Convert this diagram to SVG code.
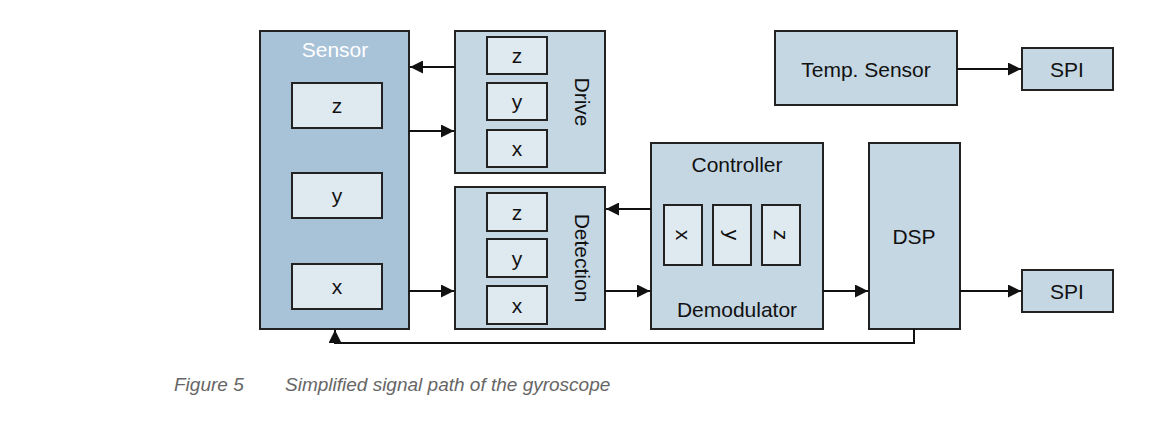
<svg xmlns="http://www.w3.org/2000/svg" width="1149" height="429" viewBox="0 0 1149 429">
<style>
.o,.s,.i{stroke:#222;stroke-width:2}
.o{fill:#c5d7e3}.s{fill:#a8c2d8}.i{fill:#dfe9f0}
text{font-family:"Liberation Sans",Arial,sans-serif;font-size:21px;fill:#111;text-anchor:middle;dominant-baseline:central}
.cap{font-style:italic;fill:#666;text-anchor:start;font-size:19px}
.c{stroke:#111;stroke-width:2;fill:none}
.h{fill:#111;stroke:none}
</style>
<defs><marker id="a" viewBox="0 0 10 10" refX="10" refY="5" markerWidth="20" markerHeight="13" markerUnits="userSpaceOnUse" orient="auto"><path class="h" d="M0,0L10,5L0,10z"/></marker></defs>
<rect width="1149" height="429" fill="#fff"/>
<g id="sensor"><rect class="s" x="260" y="31" width="149" height="298"/><text x="335" y="49" style="fill:#fff">Sensor</text>
<rect class="i" x="292" y="83" width="90" height="45"/><text x="337" y="105">z</text>
<rect class="i" x="292" y="173" width="90" height="45"/><text x="337" y="195">y</text>
<rect class="i" x="292" y="264" width="90" height="45"/><text x="337" y="286">x</text></g>
<g id="drive"><rect class="o" x="455" y="31" width="150" height="142"/>
<rect class="i" x="487" y="37" width="60" height="37"/><text x="517" y="55">z</text>
<rect class="i" x="487" y="83" width="60" height="37"/><text x="517" y="101">y</text>
<rect class="i" x="487" y="130" width="60" height="37"/><text x="517" y="148">x</text>
<text transform="translate(582,102) rotate(90)">Drive</text></g>
<g id="detection"><rect class="o" x="455" y="187" width="150" height="142"/>
<rect class="i" x="487" y="193" width="60" height="38"/><text x="517" y="212">z</text>
<rect class="i" x="487" y="239" width="60" height="38"/><text x="517" y="258">y</text>
<rect class="i" x="487" y="286" width="60" height="38"/><text x="517" y="305">x</text>
<text transform="translate(582,258) rotate(90)">Detection</text></g>
<g id="controller"><rect class="o" x="651" y="143" width="172" height="186"/>
<text x="737" y="164">Controller</text><text x="737" y="309">Demodulator</text>
<rect class="i" x="664" y="205" width="38" height="60"/><text transform="translate(683,235) rotate(90)">x</text>
<rect class="i" x="713" y="205" width="38" height="60"/><text transform="translate(732,235) rotate(90)">y</text>
<rect class="i" x="762" y="205" width="38" height="60"/><text transform="translate(781,235) rotate(90)">z</text></g>
<g id="dsp"><rect class="o" x="869" y="143" width="91" height="186"/><text x="914" y="236">DSP</text></g>
<g id="temp"><rect class="o" x="775" y="31" width="182" height="74"/><text x="866" y="69">Temp. Sensor</text></g>
<g id="spi1"><rect class="o" x="1022" y="48" width="91" height="42"/><text x="1067" y="69">SPI</text></g>
<g id="spi2"><rect class="o" x="1022" y="270" width="91" height="42"/><text x="1067" y="291">SPI</text></g>
<g id="connectors">
<line class="c" x1="455" y1="67" x2="410" y2="67" marker-end="url(#a)"/>
<line class="c" x1="409" y1="131" x2="454" y2="131" marker-end="url(#a)"/>
<line class="c" x1="409" y1="291" x2="454" y2="291" marker-end="url(#a)"/>
<line class="c" x1="651" y1="209" x2="606" y2="209" marker-end="url(#a)"/>
<line class="c" x1="605" y1="291" x2="650" y2="291" marker-end="url(#a)"/>
<line class="c" x1="823" y1="291" x2="868" y2="291" marker-end="url(#a)"/>
<line class="c" x1="960" y1="291" x2="1021" y2="291" marker-end="url(#a)"/>
<line class="c" x1="957" y1="69" x2="1021" y2="69" marker-end="url(#a)"/>
<path class="c" d="M914,329V343H335V330" marker-end="url(#a)"/>
</g>
<text class="cap" x="174" y="384">Figure 5</text>
<text class="cap" x="285" y="384">Simplified signal path of the gyroscope</text>
</svg>
